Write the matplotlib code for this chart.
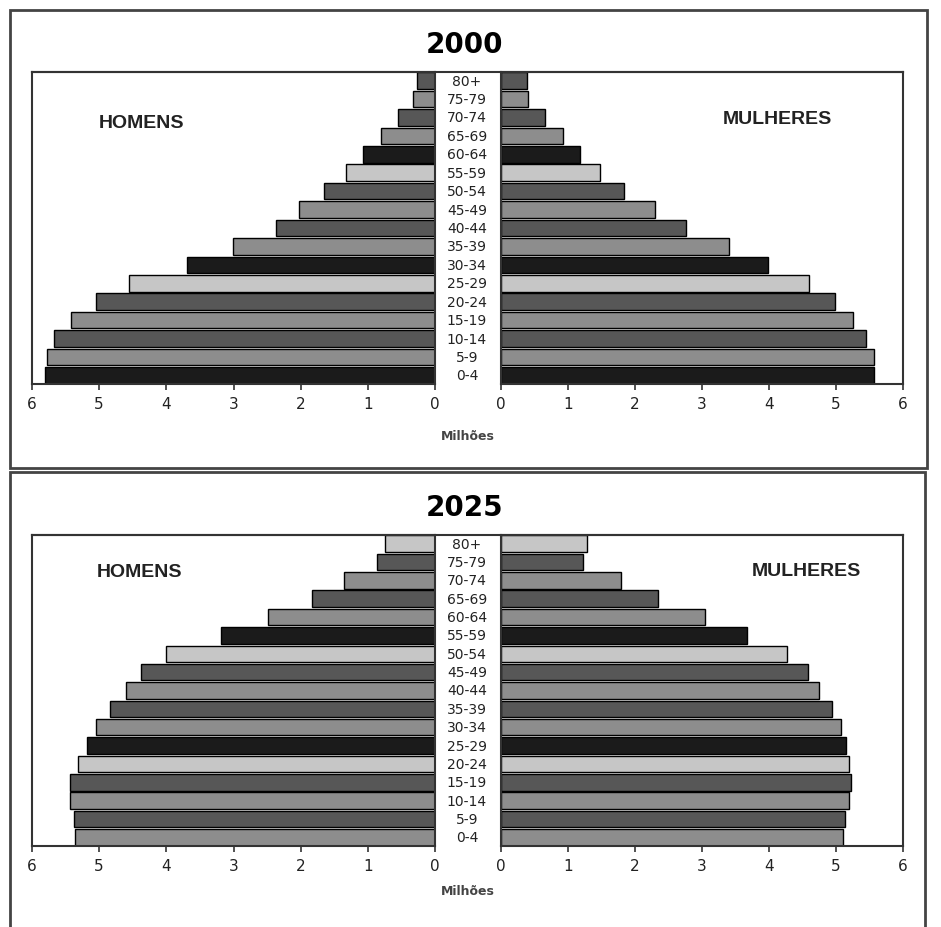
import matplotlib.pyplot as plt
from matplotlib.patches import Rectangle
from matplotlib.lines import Line2D
import matplotlib.transforms as mtransforms

# faixas etarias (de baixo para cima)
idades = ["0-4", "5-9", "10-14", "15-19", "20-24", "25-29", "30-34", "35-39",
          "40-44", "45-49", "50-54", "55-59", "60-64", "65-69", "70-74", "75-79", "80+"]

# populacao em milhoes
homens_2000 = [5.80, 5.78, 5.67, 5.42, 5.04, 4.55, 3.69, 3.01, 2.37, 2.03,
               1.66, 1.32, 1.07, 0.80, 0.55, 0.33, 0.27]
mulheres_2000 = [5.57, 5.56, 5.45, 5.26, 4.99, 4.60, 3.99, 3.40, 2.76, 2.30,
                 1.84, 1.48, 1.18, 0.92, 0.65, 0.41, 0.39]
homens_2025 = [5.36, 5.38, 5.43, 5.43, 5.31, 5.18, 5.04, 4.84, 4.60, 4.38,
               4.00, 3.18, 2.48, 1.83, 1.36, 0.87, 0.75]
mulheres_2025 = [5.10, 5.14, 5.20, 5.23, 5.19, 5.15, 5.07, 4.94, 4.75, 4.58,
                 4.27, 3.67, 3.05, 2.34, 1.79, 1.23, 1.29]

ticks = [0, 1, 2, 3, 4, 5, 6]

# tons de cinza
preto = "#1b1b1b"
escuro = "#575757"
medio = "#8d8d8d"
claro = "#c6c6c6"
ciclo_2000 = [preto, medio, escuro, medio, escuro, claro]
ciclo_2025 = [medio, escuro, medio, escuro, claro, preto]

W, H = 941, 928
fig = plt.figure(figsize=(W / 100, H / 100), dpi=100)
plt.rcParams['font.family'] = ['DejaVu Sans']


def fx(px):
    return px / W


def fy(py):
    return 1 - py / H


def painel(ano, homens, mulheres, ciclo, y_top, y_bot, y_titulo, y_milhoes, pos_h, pos_m):
    cores = [ciclo[i % 6] for i in range(len(idades))]
    ypos = list(range(len(idades)))
    bottom = fy(y_bot)
    height = fy(y_top) - fy(y_bot)
    axl = fig.add_axes([fx(32), bottom, fx(435 - 32), height])
    axr = fig.add_axes([fx(501), bottom, fx(903 - 501), height])

    axl.barh(ypos, homens, height=0.9, color=cores, edgecolor="black", linewidth=1)
    axr.barh(ypos, mulheres, height=0.9, color=cores, edgecolor="black", linewidth=1)

    for ax in (axl, axr):
        ax.set_ylim(-0.47, 16.47)
        ax.set_yticks([])
        ax.set_xticks(ticks)
        ax.set_xticklabels([str(t) for t in ticks], fontsize=11, color="#222222")
        ax.tick_params(axis="x", length=4, width=1.2, pad=5, color="#333333")
        for s in ax.spines.values():
            s.set_linewidth(1.5)
            s.set_color("#333333")
    axl.set_xlim(6, 0)
    axr.set_xlim(0, 6)

    # linha superior continua entre os dois lados
    fig.add_artist(Line2D([fx(32), fx(903)], [fy(y_top), fy(y_top)],
                          color="#333333", linewidth=1.5))

    # rotulos das faixas etarias
    trans = mtransforms.blended_transform_factory(fig.transFigure, axl.transData)
    for i, lab in enumerate(idades):
        fig.text(fx(467), i, lab, transform=trans, ha="center", va="center",
                 fontsize=10, color="#222222")

    fig.text(fx(465), fy(y_titulo), ano, ha="center", va="center",
             fontsize=20, fontweight="bold")
    fig.text(fx(468), fy(y_milhoes), "Milhões", ha="center", va="center",
             fontsize=9, fontweight="bold", color="#444444")
    fig.text(fx(pos_h[0]), fy(pos_h[1]), "HOMENS", ha="center", va="center",
             fontsize=14, fontweight="bold", family="Liberation Sans", color="#222222")
    fig.text(fx(pos_m[0]), fy(pos_m[1]), "MULHERES", ha="center", va="center",
             fontsize=14, fontweight="bold", family="Liberation Sans", color="#222222")


painel("2000", homens_2000, mulheres_2000, ciclo_2000, 73, 385, 45, 437,
       (142, 124), (777, 120))
painel("2025", homens_2025, mulheres_2025, ciclo_2025, 536, 847, 508, 892,
       (139, 573), (806, 572))

# molduras externas
fig.add_artist(Rectangle((fx(10), fy(469)), fx(927 - 10), fy(11) - fy(469),
                         fill=False, edgecolor="#444444", linewidth=2))
fig.add_artist(Rectangle((fx(10), fy(940)), fx(925 - 10), fy(473) - fy(940),
                         fill=False, edgecolor="#444444", linewidth=2))

fig.savefig("out.png", dpi=100)
